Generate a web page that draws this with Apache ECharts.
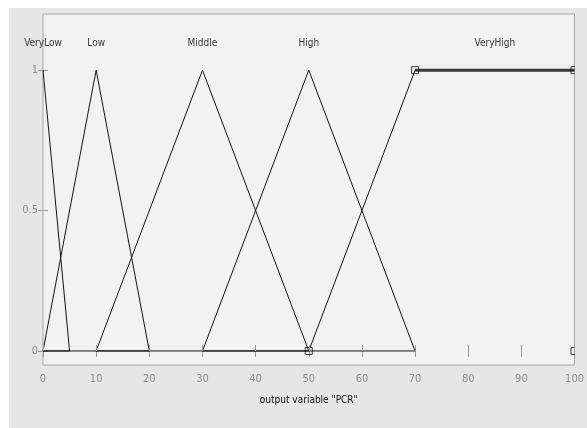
<!DOCTYPE html>
<html>
<head>
<meta charset="utf-8">
<script src="https://cdn.jsdelivr.net/npm/echarts@6/dist/echarts.min.js"></script>
<style>
  html, body { margin: 0; padding: 0; background: #ffffff; }
  #frame { position: absolute; left: 9px; top: 8px; width: 578px; height: 420px; background: #e6e6e6; }
  #chart { position: absolute; left: 0; top: 0; width: 587px; height: 428px; }
</style>
</head>
<body>
<div id="frame"></div>
<div id="chart"></div>
<script>
// Membership functions of the output variable "PCR" (x from 0 to 100)
const mfNames = ['VeryLow', 'Low', 'Middle', 'High', 'VeryHigh'];
const veryLowPts = [[0, 1], [5, 0], [0, 0]];
const lowPts = [[0, 0], [10, 1], [20, 0], [0, 0]];
const middlePts = [[10, 0], [30, 1], [50, 0], [10, 0]];
const highPts = [[30, 0], [50, 1], [70, 0], [30, 0]];
const veryHighPts = [[50, 0], [70, 1], [100, 1], [100, 0]];
// name label positions (x centre, height)
const labelX = [0, 10, 30, 50, 85];
const labelY = 1.095;
const xTicks = [0, 10, 20, 30, 40, 50, 60, 70, 80, 90, 100];
const yTicks = [0, 0.5, 1];

const FONT = '"DejaVu Sans Condensed", "Liberation Sans Narrow", sans-serif';
const lineColor = '#141414';

function mfSeries(pts) {
  return {
    type: 'line', data: pts, symbol: 'none', clip: true, animation: false,
    lineStyle: { color: lineColor, width: 1 }, z: 3
  };
}

const chart = echarts.init(document.getElementById('chart'), null, { renderer: 'canvas' });
chart.setOption({
  backgroundColor: 'transparent',
  animation: false,
  grid: { left: 43, top: 14, right: 12, bottom: 63, show: true, backgroundColor: '#f2f2f2', borderColor: '#a6a6a6', borderWidth: 1 },
  xAxis: [{
    type: 'value', min: 0, max: 100, interval: 10, position: 'bottom', z: 20,
    axisLine: { show: false },
    axisTick: { show: true, inside: true, length: 6, lineStyle: { color: '#9a9a9a' } },
    splitLine: { show: false },
    axisLabel: { color: '#8c8c8c', fontFamily: FONT, fontSize: 11, margin: 9 },
    name: 'output variable "PCR"', nameLocation: 'middle', nameGap: 30,
    nameTextStyle: { color: '#111', fontFamily: FONT, fontSize: 10 }
  }, {
    type: 'value', min: 0, max: 100, interval: 10, position: 'top',
    axisLine: { show: false },
    axisTick: { show: true, inside: true, length: 6, lineStyle: { color: '#9a9a9a' } },
    splitLine: { show: false }, axisLabel: { show: false }
  }],
  yAxis: [{
    type: 'value', min: -0.05, max: 1.2, position: 'left',
    axisLine: { show: false },
    axisTick: { show: true, inside: true, length: 5, customValues: yTicks, lineStyle: { color: '#9a9a9a' } },
    splitLine: { show: false },
    axisLabel: { color: '#8c8c8c', fontFamily: FONT, fontSize: 11, margin: 5, customValues: yTicks,
      formatter: v => String(v) }
  }, {
    type: 'value', min: -0.05, max: 1.2, position: 'right',
    axisLine: { show: false },
    axisTick: { show: true, inside: true, length: 5, customValues: yTicks, lineStyle: { color: '#9a9a9a' } },
    splitLine: { show: false }, axisLabel: { show: false }
  }],
  // strip right of the axes box hides the outer half of the edge handles
  graphic: [{
    type: 'rect', left: 575, top: 8, z: 10,
    shape: { width: 12, height: 420 }, style: { fill: '#e6e6e6' }
  }],
  series: [
    mfSeries(veryLowPts),
    mfSeries(lowPts),
    mfSeries(middlePts),
    mfSeries(highPts),
    // selected function: thin rising side, heavy plateau, square vertex handles
    mfSeries(veryHighPts.slice(0, 3)),
    {
      type: 'line', data: veryHighPts.slice(1, 3), symbol: 'none', clip: true, animation: false, z: 3,
      lineStyle: { color: '#3a3a3a', width: 3 }
    },
    {
      type: 'scatter', data: veryHighPts, animation: false, z: 5,
      symbol: 'rect', symbolSize: 7,
      itemStyle: { color: 'rgba(0,0,0,0)', borderColor: '#111', borderWidth: 1 }
    },
    {
      type: 'scatter', symbolSize: 0, animation: false, silent: true,
      data: mfNames.map((n, i) => [labelX[i], labelY, n]),
      label: { show: true, position: 'inside', formatter: p => p.data[2],
        color: '#000', fontFamily: FONT, fontSize: 10 }
    }
  ]
});
</script>
</body>
</html>
